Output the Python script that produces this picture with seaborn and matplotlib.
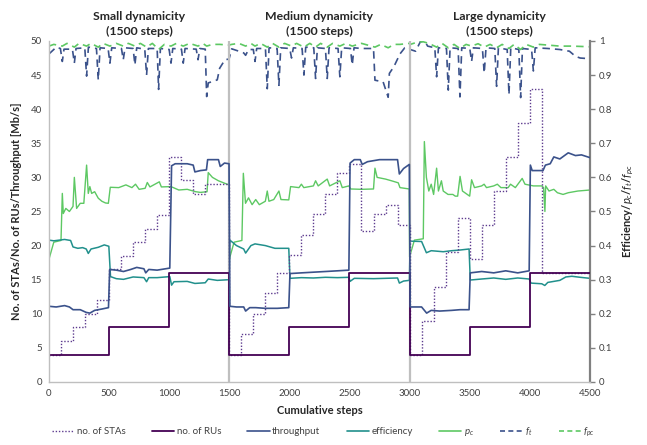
import matplotlib
matplotlib.use("Agg")
import matplotlib.pyplot as plt
from matplotlib.lines import Line2D
from matplotlib.transforms import blended_transform_factory
import seaborn as sns
import pandas as pd

# ---------------- data ----------------
# number of RUs (step function, value holds until next change)
ru_steps = [0, 500, 1000, 1500, 2000, 2500, 3000, 3500, 4000, 4500]
ru_vals = [4, 8, 16, 4, 8, 16, 4, 8, 16, 16]

# number of STAs (step function)
sta_steps = [0, 100, 200, 300, 400, 500, 600, 700, 800, 900, 1000, 1100, 1200, 1300,
             1500, 1600, 1700, 1800, 1900, 2000, 2100, 2200, 2300, 2400, 2500, 2600, 2700, 2800, 2900,
             3000, 3100, 3200, 3300, 3400, 3500, 3600, 3700, 3800, 3900, 4000, 4100, 4500]
sta_vals = [4, 6, 8, 10, 12, 16.5, 18.5, 20.5, 22.5, 24.5, 33, 29.6, 27.6, 29,
            4, 7, 10, 13, 16, 18.6, 21.5, 24.6, 27.6, 30.6, 32, 22.2, 24.6, 26, 23,
            4, 9, 14, 19, 24, 18, 23, 28, 33, 38, 43, 16, 16]

# throughput [Mb/s]
thr_steps = [0, 60, 130, 170, 200, 260, 310, 340, 380, 440, 495, 505, 560, 620, 680, 730, 790, 805,
             830, 900, 1005, 1020, 1050, 1150, 1200, 1214, 1260, 1310, 1320, 1410, 1425, 1460, 1498,
             1505, 1560, 1620, 1636, 1670, 1720, 1800, 1900, 1995, 2005, 2100, 2200, 2300, 2400, 2495,
             2505, 2540, 2590, 2606, 2650, 2750, 2900, 2915, 2950, 2998,
             3005, 3100, 3142, 3180, 3250, 3350, 3420, 3495, 3505, 3600, 3700, 3800, 3900, 3995,
             4005, 4020, 4110, 4130, 4170, 4200, 4250, 4320, 4380, 4430, 4500]
thr_vals = [11.1, 11.0, 11.2, 11.0, 10.6, 10.6, 10.2, 10.1, 10.5, 10.7, 10.9, 16.5, 16.4, 16.2, 16.5,
            16.8, 16.6, 16.0, 16.5, 16.4, 16.7, 31.7, 32.0, 32.0, 31.8, 30.8, 31.0, 31.1, 32.6, 32.6,
            31.6, 32.1, 32.0,
            11.1, 11.0, 11.0, 10.4, 10.9, 10.9, 10.8, 10.8, 10.9, 15.9, 16.0, 16.1, 16.2, 16.3, 16.4,
            32.1, 32.6, 32.6, 31.9, 32.3, 32.6, 32.6, 30.5, 31.3, 31.9,
            11.0, 11.0, 10.1, 10.5, 10.4, 10.5, 10.6, 10.6, 16.0, 16.2, 16.0, 16.3, 16.0, 16.3,
            31.8, 31.0, 31.0, 31.8, 32.0, 33.0, 32.7, 33.6, 33.2, 33.3, 32.9]

# efficiency
eff_steps = [0, 40, 130, 180, 200, 240, 280, 310, 327, 350, 410, 460, 498, 512, 560, 620, 700, 790,
             812, 830, 900, 1005, 1020, 1040, 1150, 1214, 1300, 1325, 1400, 1498,
             1505, 1560, 1620, 1636, 1680, 1714, 1800, 1880, 1995, 2005, 2100, 2200, 2300, 2400, 2495,
             2505, 2540, 2700, 2900, 2915, 2950, 2998,
             3005, 3100, 3140, 3180, 3280, 3350, 3420, 3495, 3505, 3600, 3700, 3800, 3900, 3995,
             4010, 4100, 4125, 4150, 4250, 4300, 4350, 4420, 4500]
eff_vals = [0.416, 0.414, 0.418, 0.415, 0.396, 0.392, 0.394, 0.39, 0.377, 0.39, 0.395, 0.402, 0.398,
            0.309, 0.303, 0.301, 0.308, 0.306, 0.294, 0.306, 0.306, 0.309, 0.284, 0.294, 0.295, 0.289,
            0.291, 0.302, 0.298, 0.300,
            0.416, 0.40, 0.39, 0.378, 0.40, 0.405, 0.40, 0.392, 0.392, 0.304, 0.306, 0.305, 0.307,
            0.306, 0.307, 0.295, 0.304, 0.303, 0.305, 0.29, 0.296, 0.298,
            0.413, 0.412, 0.379, 0.385, 0.382, 0.385, 0.387, 0.39, 0.299, 0.302, 0.305, 0.301, 0.305,
            0.302, 0.29, 0.288, 0.283, 0.292, 0.298, 0.308, 0.31, 0.307, 0.304]

# p_c
pc_steps = [0, 40, 100, 111, 119, 140, 170, 200, 211, 230, 260, 290, 313, 327, 340, 355, 380, 410,
            440, 470, 494, 510, 580, 640, 690, 720, 750, 800, 818, 840, 918, 935, 1015, 1080, 1150,
            1220, 1260, 1315, 1325, 1360, 1410, 1460, 1498,
            1500, 1540, 1605, 1617, 1635, 1660, 1690, 1720, 1750, 1800, 1816, 1830, 1870, 1913, 1930,
            1995, 2010, 2080, 2100, 2120, 2200, 2218, 2240, 2315, 2335, 2420, 2440, 2495, 2510, 2600,
            2700, 2712, 2730, 2800, 2850, 2906, 2920, 2998,
            3000, 3040, 3114, 3123, 3140, 3160, 3180, 3200, 3225, 3240, 3265, 3280, 3300, 3320, 3360,
            3380, 3400, 3420, 3440, 3480, 3500, 3516, 3540, 3600, 3620, 3640, 3700, 3730, 3760, 3820,
            3840, 3880, 3937, 3960, 4030, 4100, 4115, 4126, 4132, 4160, 4200, 4230, 4277, 4320, 4400,
            4500]
pc_vals = [0.36, 0.41, 0.415, 0.553, 0.494, 0.509, 0.50, 0.515, 0.60, 0.509, 0.524, 0.524, 0.636,
           0.553, 0.573, 0.553, 0.558, 0.539, 0.53, 0.525, 0.524, 0.571, 0.57, 0.578, 0.57, 0.58,
           0.565, 0.568, 0.585, 0.572, 0.587, 0.572, 0.573, 0.563, 0.565, 0.558, 0.556, 0.558,
           0.614, 0.60, 0.59, 0.583, 0.578,
           0.36, 0.41, 0.415, 0.612, 0.524, 0.54, 0.52, 0.535, 0.52, 0.53, 0.56, 0.53, 0.535, 0.56,
           0.535, 0.534, 0.573, 0.57, 0.58, 0.57, 0.575, 0.59, 0.575, 0.595, 0.575, 0.59, 0.57,
           0.575, 0.566, 0.565, 0.566, 0.627, 0.60, 0.595, 0.59, 0.584, 0.57, 0.566,
           0.367, 0.416, 0.42, 0.705, 0.6, 0.56, 0.58, 0.55, 0.627, 0.56, 0.59, 0.56, 0.555, 0.55,
           0.55, 0.545, 0.545, 0.603, 0.56, 0.55, 0.545, 0.593, 0.57, 0.575, 0.58, 0.57, 0.575,
           0.58, 0.57, 0.57, 0.58, 0.57, 0.597, 0.58, 0.575, 0.575, 0.57, 0.50, 0.575, 0.56, 0.565,
           0.555, 0.55, 0.555, 0.56, 0.563]

# f_t
ft_steps = [0, 40, 60, 95, 111, 125, 195, 211, 225, 298, 313, 328, 395, 410, 425, 492, 507, 522,
            603, 618, 633, 700, 715, 730, 797, 812, 827, 900, 912, 927, 1000, 1015, 1030, 1102, 1117,
            1132, 1225, 1240, 1255, 1300, 1312, 1325, 1400, 1420, 1464, 1498,
            1520, 1580, 1620, 1636, 1660, 1700, 1714, 1728, 1801, 1816, 1831, 1898, 1913, 1928, 2003,
            2018, 2033, 2106, 2121, 2136, 2203, 2218, 2233, 2300, 2315, 2330, 2405, 2420, 2435, 2508,
            2523, 2538, 2600, 2700, 2712, 2780, 2822, 2832, 2870, 2920, 2960, 2998,
            3005, 3050, 3090, 3130, 3150, 3210, 3225, 3240, 3307, 3322, 3337, 3404, 3419, 3434, 3501,
            3516, 3531, 3606, 3621, 3636, 3709, 3724, 3739, 3812, 3827, 3842, 3909, 3924, 3939, 4015,
            4030, 4045, 4150, 4250, 4330, 4380, 4420, 4500]
ft_vals = [0.962, 0.975, 0.982, 0.978, 0.94, 0.976, 0.976, 0.935, 0.978, 0.98, 0.897, 0.982, 0.978,
           0.886, 0.98, 0.978, 0.935, 0.98, 0.978, 0.945, 0.98, 0.978, 0.93, 0.98, 0.976, 0.90, 0.978,
           0.978, 0.858, 0.978, 0.975, 0.935, 0.978, 0.976, 0.935, 0.978, 0.976, 0.945, 0.978, 0.976,
           0.837, 0.877, 0.886, 0.92, 0.945, 0.947,
           0.977, 0.97, 0.965, 0.958, 0.975, 0.975, 0.94, 0.978, 0.978, 0.86, 0.98, 0.978, 0.87,
           0.98, 0.978, 0.95, 0.98, 0.978, 0.90, 0.982, 0.98, 0.89, 0.98, 0.978, 0.89, 0.98, 0.978,
           0.895, 0.98, 0.978, 0.93, 0.98, 0.978, 0.978, 0.885, 0.88, 0.835, 0.905, 0.925, 0.962,
           0.98, 0.98,
           0.975, 0.97, 0.998, 0.998, 0.985, 0.98, 0.895, 0.98, 0.978, 0.856, 0.98, 0.978, 0.836,
           0.98, 0.978, 0.94, 0.98, 0.978, 0.906, 0.98, 0.978, 0.867, 0.98, 0.975, 0.843, 0.98,
           0.975, 0.834, 0.978, 0.975, 0.912, 0.98, 0.978, 0.975, 0.97, 0.955, 0.95, 0.948]

# f_pc
fpc_steps = [0, 40, 111, 150, 211, 250, 313, 350, 410, 450, 507, 560, 618, 660, 715, 760, 812, 860,
             912, 960, 1015, 1060, 1117, 1170, 1240, 1280, 1312, 1360, 1420, 1498,
             1520, 1580, 1636, 1680, 1714, 1760, 1816, 1860, 1913, 1960, 2018, 2060, 2121, 2170, 2218,
             2260, 2315, 2360, 2420, 2470, 2523, 2600, 2712, 2760, 2822, 2870, 2920, 2998,
             3005, 3060, 3110, 3160, 3225, 3270, 3322, 3370, 3419, 3470, 3516, 3570, 3621, 3670, 3724,
             3770, 3827, 3870, 3924, 3970, 4030, 4080, 4150, 4250, 4350, 4500]
fpc_vals = [0.985, 0.99, 0.985, 0.993, 0.982, 0.993, 0.985, 0.993, 0.982, 0.993, 0.985, 0.993, 0.985,
            0.993, 0.985, 0.993, 0.982, 0.993, 0.975, 0.99, 0.985, 0.993, 0.985, 0.993, 0.985, 0.993,
            0.985, 0.99, 0.99, 0.988,
            0.99, 0.993, 0.985, 0.993, 0.985, 0.993, 0.982, 0.993, 0.982, 0.993, 0.985, 0.993, 0.982,
            0.993, 0.982, 0.993, 0.982, 0.993, 0.985, 0.993, 0.985, 0.993, 0.982, 0.99, 0.98, 0.99,
            0.99, 0.993,
            0.99, 0.996, 0.998, 0.993, 0.982, 0.993, 0.98, 0.99, 0.978, 0.99, 0.985, 0.992, 0.982,
            0.99, 0.98, 0.99, 0.978, 0.99, 0.975, 0.99, 0.982, 0.99, 0.988, 0.985, 0.985, 0.983]

seg_centers = [750, 2250, 3750]
seg_titles = ["Small dynamicity\n(1500 steps)", "Medium dynamicity\n(1500 steps)",
              "Large dynamicity\n(1500 steps)"]
seg_bounds = [1500, 3000]

# ---------------- style ----------------
sns.set_style("white")
plt.rcParams["font.family"] = ["Lato", "DejaVu Sans"]
plt.rcParams["mathtext.fontset"] = "custom"
plt.rcParams["mathtext.it"] = "Lato:italic"
plt.rcParams["mathtext.rm"] = "Lato"
plt.rcParams["mathtext.bf"] = "Lato:bold:italic"

C_RU = "#440154"
C_STA = "#5E3C8F"
C_THR = "#3B528B"
C_EFF = "#21908C"
C_PC = "#5DC863"

fig = plt.figure(figsize=(6.47, 4.45), dpi=100)
ax = fig.add_axes([0.0757, 0.1416, 0.836, 0.7663])
ax2 = ax.twinx()


def draw(axis, xs, ys, **kw):
    df = pd.DataFrame({"step": xs, "value": ys})
    sns.lineplot(data=df, x="step", y="value", ax=axis, estimator=None, sort=False,
                 legend=False, **kw)


# right-axis series
draw(ax2, ft_steps, ft_vals, color=C_THR, lw=1.2, dashes=False, linestyle=(0, (4.5, 3)))
draw(ax2, fpc_steps, fpc_vals, color=C_PC, lw=1.2, dashes=False, linestyle=(0, (4.5, 3)))
draw(ax2, pc_steps, pc_vals, color=C_PC, lw=1.0)
draw(ax2, eff_steps, eff_vals, color=C_EFF, lw=1.1)

# left-axis series
draw(ax, sta_steps, sta_vals, color=C_STA, lw=1.0, drawstyle="steps-post",
     linestyle=(0, (1, 1.3)))
draw(ax, ru_steps, ru_vals, color=C_RU, lw=1.3, drawstyle="steps-post")
draw(ax, thr_steps, thr_vals, color=C_THR, lw=1.2)

ax.set_zorder(ax2.get_zorder() + 1)
ax.patch.set_visible(False)

# axes limits and ticks
ax.set_xlim(0, 4500)
ax.set_ylim(0, 50)
ax2.set_ylim(0, 1)
ax.set_xticks(range(0, 4501, 500))
ax.set_yticks(range(0, 51, 5))
ax2.set_yticks([i / 10 for i in range(0, 11)])
ax2.set_yticklabels(["0", "0.1", "0.2", "0.3", "0.4", "0.5", "0.6", "0.7", "0.8", "0.9", "1"])

tick_color = "#404040"
ax.tick_params(axis="both", length=0, labelsize=7, colors=tick_color, pad=5)
ax2.tick_params(axis="y", length=3.5, width=1, direction="out", labelsize=7,
                colors="#808080", labelcolor=tick_color, pad=3)

for a in (ax, ax2):
    for s in a.spines.values():
        s.set_visible(False)
ax.spines["left"].set_visible(True)
ax.spines["left"].set_color("#BFBFBF")
ax.spines["left"].set_linewidth(1.0)
ax.spines["bottom"].set_visible(True)
ax.spines["bottom"].set_color("#BFBFBF")
ax.spines["bottom"].set_linewidth(1.0)
ax2.spines["right"].set_visible(True)
ax2.spines["right"].set_color("#808080")
ax2.spines["right"].set_linewidth(1.6)

# segment separators
for b in seg_bounds:
    ax.axvline(b, color="#BFBFBF", lw=1.6, zorder=0.5)

# segment titles
trans = blended_transform_factory(ax.transData, ax.transAxes)
for xc, t in zip(seg_centers, seg_titles):
    ax.text(xc, 1.05, t, transform=trans, ha="center", va="center", fontsize=8.8,
            fontweight="bold", color="#262626", linespacing=1.35)

ax.set_xlabel("Cumulative steps", fontsize=8, fontweight="bold", color="#262626", labelpad=5)
ax.set_ylabel("No. of STAs/No. of RUs/Throughput [Mb/s]", fontsize=8, fontweight="bold",
              color="#262626", labelpad=6)
ax2.set_ylabel(r"Efficiency/$p_c$/$f_t$/$f_{pc}$", fontsize=8, fontweight="bold",
               color="#262626", labelpad=6)

# legend
handles = [
    Line2D([], [], color=C_STA, lw=1.0, linestyle=(0, (1, 1.3))),
    Line2D([], [], color=C_RU, lw=1.3),
    Line2D([], [], color=C_THR, lw=1.2),
    Line2D([], [], color=C_EFF, lw=1.2),
    Line2D([], [], color=C_PC, lw=1.2),
    Line2D([], [], color=C_THR, lw=1.2, linestyle=(0, (3, 2))),
    Line2D([], [], color=C_PC, lw=1.2, linestyle=(0, (3, 2))),
]
labels = ["no. of STAs", "no. of RUs", "throughput", "efficiency", r"$p_c$", r"$f_t$", r"$f_{pc}$"]
leg = fig.legend(handles, labels, loc="center", bbox_to_anchor=(0.5, 0.029), ncol=7,
                 frameon=False, fontsize=7, handlelength=2.3, handletextpad=0.25,
                 columnspacing=2.7)
for txt in leg.get_texts():
    txt.set_color(tick_color)

fig.savefig("out.png", dpi=100)
